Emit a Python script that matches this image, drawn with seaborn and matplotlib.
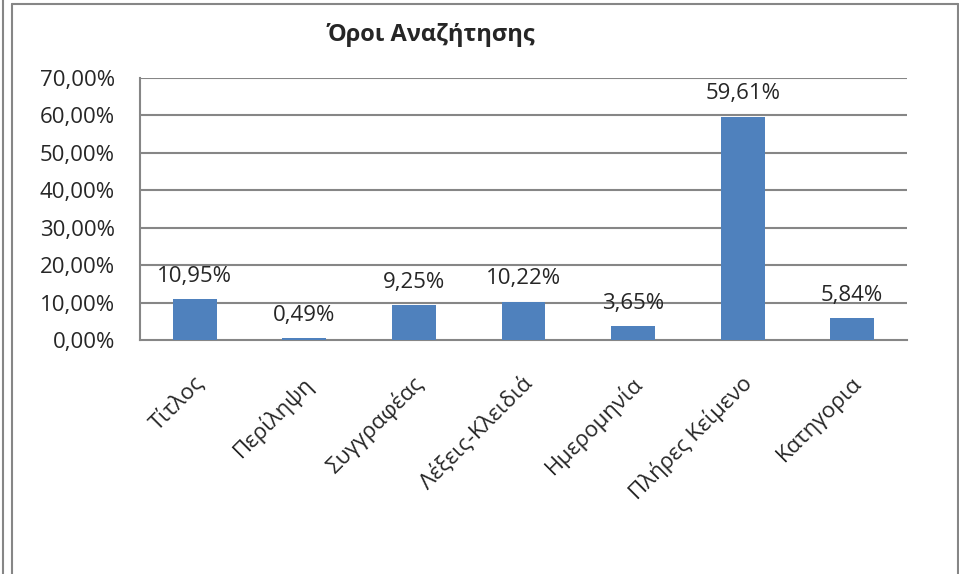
import matplotlib
matplotlib.use("Agg")
import matplotlib.pyplot as plt
import matplotlib.transforms as mtransforms
import seaborn as sns
import pandas as pd
from matplotlib.lines import Line2D

categories = ["Τίτλος", "Περίληψη", "Συγγραφέας", "Λέξεις-Κλειδιά", "Ημερομηνία", "Πλήρες Κείμενο", "Κατηγορια"]
values = [10.95, 0.49, 9.25, 10.22, 3.65, 59.61, 5.84]
title = "Όροι Αναζήτησης"
yticks = [0, 10, 20, 30, 40, 50, 60, 70]

sns.set_style("white")
plt.rcParams['font.family'] = ['Open Sans', 'DejaVu Sans']

df = pd.DataFrame({"cat": categories, "val": values})

fig = plt.figure(figsize=(9.59, 5.74), dpi=100)
ax = fig.add_axes([140/959, 1-340/574, (907-140)/959, (340-78)/574])

sns.barplot(data=df, x="cat", y="val", color="#4F81BD", saturation=1, width=0.4,
            linewidth=0, ax=ax, zorder=3)

grey = "#868686"
ax.set_ylim(0, 70)
ax.set_xlim(-0.5, len(categories)-0.5)
ax.set_yticks(yticks)
ax.set_yticklabels([f"{v:.2f}".replace(".", ",") + "%" for v in yticks], fontsize=16)
for y in yticks[1:]:
    ax.axhline(y, color=grey, lw=1.5, zorder=1)

ax.set_xticks([i - 0.5 for i in range(len(categories)+1)], minor=False)
ax.set_xticklabels([])
ax.tick_params(axis="x", which="major", length=6, width=1.5, color=grey, direction="out")
ax.tick_params(axis="y", length=6, width=1.5, color=grey, direction="out", pad=12)
ax.set_xticks(range(len(categories)), minor=True)
ax.set_xticklabels(categories, minor=True, rotation=45, ha="right", va="center",
                   rotation_mode="anchor", fontsize=16)
ax.tick_params(axis="x", which="minor", length=0, pad=29)
off = mtransforms.ScaledTranslation(0.06, 0, fig.dpi_scale_trans)
for lbl in ax.get_xticklabels(minor=True):
    lbl.set_transform(lbl.get_transform() + off)
ax.set_xlabel("")
ax.set_ylabel("")

for s in ["top", "right"]:
    ax.spines[s].set_visible(False)
for s in ["left", "bottom"]:
    ax.spines[s].set_color(grey)
    ax.spines[s].set_linewidth(1.5)

for i, v in enumerate(values):
    ax.annotate(f"{v:.2f}".replace(".", ",") + "%", (i, v), xytext=(0, 9), textcoords="offset points",
                ha="center", va="bottom", fontsize=16)

fig.text(431/959, 1-35/574, title, ha="center", va="center", fontsize=17, fontweight="bold")

W, H = 959, 574
def fl(x0, y0, x1, y1):
    fig.add_artist(Line2D([x0/W, x1/W], [1-y0/H, 1-y1/H], color=grey, lw=1.5, transform=fig.transFigure))
fl(2.5, 0, 2.5, 574)
fl(12, 4, 12, 574)
fl(12, 4, 957.5, 4)
fl(957.5, 4, 957.5, 574)

fig.savefig("out.png", dpi=100)
